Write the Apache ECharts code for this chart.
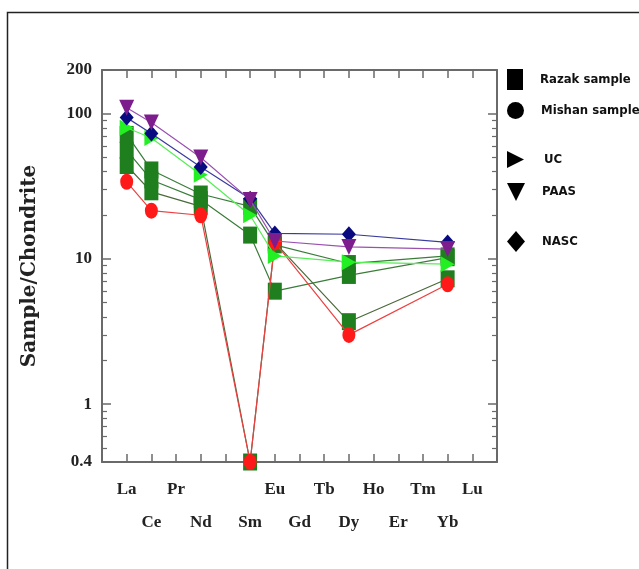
<!DOCTYPE html>
<html><head><meta charset="utf-8">
<script src="https://cdn.jsdelivr.net/npm/echarts@6/dist/echarts.min.js"></script>
<style>html,body{margin:0;padding:0;background:#fff}#c{width:639px;height:569px}</style>
</head><body><div id="c"></div>
<script>
// Chondrite-normalised REE, slot positions 1..15 (Pm blank)
var elements = ["La","Ce","Pr","Nd","","Sm","Eu","Gd","Tb","Dy","Ho","Er","Tm","Yb","Lu"];
var sampled = ["La","Ce","Nd","Sm","Eu","Dy","Yb"];
var yTickLabels = [0.4, 1, 10, 100, 200];
var yMinorTicks = [0.5,0.6,0.7,0.8,0.9,2,3,4,5,6,7,8,9,20,30,40,50,60,70,80,90];
var razak1 = [72, 41, 28, 23, 12.5, 9.3, 10.5];
var razak2 = [56, 35, 25.6, 14.6, 6.0, 7.7, 10.2];
var razak3 = [44, 29, 23, 0.4, 13, 3.7, 7.3];
var mishan = [34, 21.5, 20, 0.4, 13, 3.0, 6.7];
var uc     = [80, 68, 38, 20, 10.5, 9.5, 9.2];
var paas   = [110, 87, 50, 25.5, 13.3, 12.1, 11.7];
var nasc   = [94, 73, 43, 26, 15, 14.8, 13];

function pts(vals){ return sampled.map(function(el,i){ return [elements.indexOf(el)+1, vals[i]]; }); }

var RIGHT_TRI = 'path://M0,0 L10,5 L0,10 Z';
var DOWN_TRI = 'path://M0,0 L10,0 L5,10 Z';
var SERIF = "'Liberation Serif','Times New Roman',serif";
var LEGFONT = "'DejaVu Sans Condensed','DejaVu Sans',sans-serif";
var AX = '#6a6a6a';

function mk(name, vals, sym, size, fill, line, z){
  return {type:'line', name:name, data:pts(vals), symbol:sym, symbolSize:size,
    itemStyle:{color:fill}, lineStyle:{color:line, width:1.2}, z:z, animation:false,
    showSymbol:true};
}

function legendItem(name, icon, left, top, w, h, pad){
  return {left:left, top:top, padding:0, selectedMode:false, itemWidth:w, itemHeight:h,
    data:[{name:name, icon:icon, itemStyle:{color:'#000', borderWidth:0}}],
    textStyle:{fontFamily:LEGFONT, fontWeight:'bold', fontSize:13, color:'#111', padding:pad}};
}

var chart = echarts.init(document.getElementById('c'), null, {renderer:'canvas'});
chart.setOption({
  backgroundColor:'#fff',
  animation:false,
  graphic:[{type:'rect', shape:{x:7.5,y:12.5,width:700,height:700}, style:{fill:'none', stroke:'#222', lineWidth:1.5}, silent:true}],
  legend:[
    legendItem('Razak sample','rect',507,69,16,21,[0,0,4,12]),
    legendItem('Mishan sample','circle',507,102,17,21,[0,0,4,12]),
    legendItem('UC',RIGHT_TRI,507,151,17,17,[0,0,8,15]),
    legendItem('PAAS',DOWN_TRI,507,183,18,19,[0,0,0,12]),
    legendItem('NASC','diamond',507,231,18,21,[6,0,0,12])
  ],
  grid:{left:102, right:142, top:70, bottom:107},
  xAxis:[{
    type:'value', min:0, max:16, interval:1, position:'bottom',
    axisLine:{show:true, lineStyle:{color:AX, width:2}},
    axisTick:{show:true, inside:true, length:8, lineStyle:{color:AX, width:1.5}},
    splitLine:{show:false},
    axisLabel:{margin:11, lineHeight:33, fontFamily:SERIF, fontWeight:'bold', fontSize:17, color:'#222',
      formatter:function(v){ var n = (v>=1 && v<=15) ? elements[v-1] : ''; return (v%2===0) ? '\n'+n : n; }}
  },{
    type:'value', min:0, max:16, interval:1, position:'top',
    axisLine:{show:true, lineStyle:{color:AX, width:2}},
    axisTick:{show:true, inside:true, length:8, lineStyle:{color:AX, width:1.5}},
    axisLabel:{show:false}, splitLine:{show:false}
  }],
  yAxis:[{
    type:'log', min:0.4, max:200, position:'left',
    name:'Sample/Chondrite', nameLocation:'middle', nameGap:62, nameRotate:90,
    nameTextStyle:{fontFamily:"'DejaVu Serif',serif", fontWeight:'bold', fontSize:20, color:'#222'},
    axisLine:{show:true, lineStyle:{color:AX, width:2}},
    axisTick:{show:true, inside:true, length:9, customValues:yTickLabels, lineStyle:{color:AX, width:1.5}},
    axisLabel:{margin:10, fontFamily:SERIF, fontWeight:'bold', fontSize:17, color:'#222', customValues:yTickLabels,
      formatter:function(v){ return String(+v.toPrecision(3)); }},
    splitLine:{show:false}
  },{
    type:'log', min:0.4, max:200, position:'left',
    axisLine:{show:false},
    axisTick:{show:true, inside:true, length:5, customValues:yMinorTicks, lineStyle:{color:AX, width:1.2}},
    axisLabel:{show:false}, splitLine:{show:false}
  },{
    type:'log', min:0.4, max:200, position:'right',
    axisLine:{show:true, lineStyle:{color:AX, width:2}},
    axisTick:{show:true, inside:true, length:9, customValues:yTickLabels, lineStyle:{color:AX, width:1.5}},
    axisLabel:{show:false}, splitLine:{show:false}
  },{
    type:'log', min:0.4, max:200, position:'right',
    axisLine:{show:false},
    axisTick:{show:true, inside:true, length:5, customValues:yMinorTicks, lineStyle:{color:AX, width:1.2}},
    axisLabel:{show:false}, splitLine:{show:false}
  }],
  series:[
    mk('Razak sample', razak1, 'rect', [14,17], '#1f7f1f', '#3a7d3a', 3),
    mk('Razak sample', razak2, 'rect', [14,17], '#1f7f1f', '#3a7d3a', 3),
    mk('Razak sample', razak3, 'rect', [14,17], '#1f7f1f', '#4a6a3a', 3),
    mk('Mishan sample', mishan, 'circle', [13,16], '#ff1a1a', '#ee4040', 4),
    mk('UC', uc, RIGHT_TRI, [14,16], '#22f022', '#55ee55', 5),
    mk('NASC', nasc, 'diamond', [14,16], '#0a0a80', '#3a3aa0', 6),
    mk('PAAS', paas, DOWN_TRI, [15,16], '#7d1c8c', '#9a50b0', 7)
  ]
});
</script></body></html>
